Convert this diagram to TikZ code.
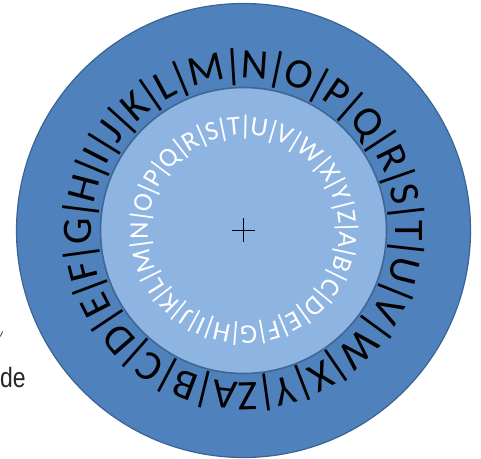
\documentclass[tikz,border=0pt]{standalone}
\usepackage{fontspec}
\setmainfont{Carlito}
\newfontfamily\arialfont{Liberation Sans}
\usetikzlibrary{decorations.text}
\definecolor{outerblue}{HTML}{4F81BD}
\definecolor{outerline}{HTML}{3A6494}
\definecolor{innerblue}{HTML}{8EB4E2}
\definecolor{innerline}{HTML}{3E6794}
\newcommand\rbar{\makebox[0.27em]{|}}
\tikzset{
  ringpath/.style={decorate, decoration={text along path, text format delimiters={[}{]}, text align=fit to path, text color=#1}}
}
\begin{document}
\begin{tikzpicture}[x=1pt,y=1pt]
\useasboundingbox (0,0) rectangle (481,458);
\coordinate (c) at (243.5,227.5);
\fill[outerblue, draw=outerline, line width=1.2pt] (c) circle[radius=227];
\fill[innerblue, draw=innerline, line width=1.6pt] (c) circle[radius=143];
\begin{scope}[shift={(243.5,227.5)}]
\path[ringpath=black, decoration={text={[\fontsize{42}{50}\selectfont]A{\rbar}B{\rbar}C{\rbar}D{\rbar}E{\rbar}F{\rbar}G{\rbar}H{\rbar}I{\rbar}J{\rbar}K{\rbar}L{\rbar}M{\rbar}N{\rbar}O{\rbar}P{\rbar}Q{\rbar}R{\rbar}S{\rbar}T{\rbar}U{\rbar}V{\rbar}W{\rbar}X{\rbar}Y{\rbar}Z}}]
  (268:152) arc[start angle=268, delta angle=-360, radius=152];
\path[ringpath=white, decoration={text={[\fontsize{27}{32}\selectfont]A{\rbar}B{\rbar}C{\rbar}D{\rbar}E{\rbar}F{\rbar}G{\rbar}H{\rbar}I{\rbar}J{\rbar}K{\rbar}L{\rbar}M{\rbar}N{\rbar}O{\rbar}P{\rbar}Q{\rbar}R{\rbar}S{\rbar}T{\rbar}U{\rbar}V{\rbar}W{\rbar}X{\rbar}Y{\rbar}Z{\rbar}}}]
  (-0.5:95.5) arc[start angle=-0.5, delta angle=-360, radius=95.5];
\coordinate (hl) at (-11.5,0);
\coordinate (hr) at (11.5,0);
\coordinate (vt) at (0,12);
\coordinate (vb) at (0,-12);
\end{scope}
\draw[line width=1.8pt] (hl) -- (hr);
\draw[line width=1.8pt] (vt) -- (vb);
\node[anchor=base west, inner sep=0pt, font=\arialfont\fontsize{28}{32}\selectfont, text=black!85] (de) at (0,71) {\scalebox{0.82}[1]{de}};
\coordinate (m1) at (0.3,121.5);
\coordinate (m2) at (2.6,126.5);
\draw[black!70, line width=0.9pt] (m1) -- (m2);
\end{tikzpicture}
\end{document}
